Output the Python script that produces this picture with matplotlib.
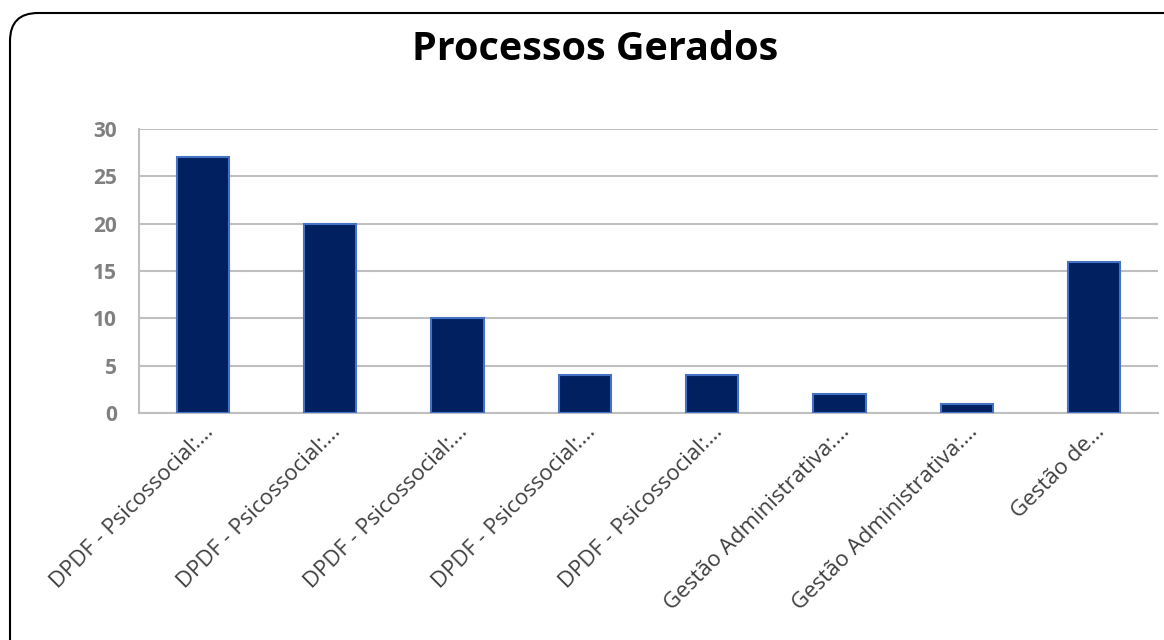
import matplotlib.pyplot as plt
from matplotlib.patches import FancyBboxPatch
from matplotlib.transforms import IdentityTransform

# dados
categorias = [
    "DPDF - Psicossocial:…",
    "DPDF - Psicossocial:…",
    "DPDF - Psicossocial:…",
    "DPDF - Psicossocial:…",
    "DPDF - Psicossocial:…",
    "Gestão Administrativa:…",
    "Gestão Administrativa:…",
    "Gestão de…",
]
valores = [27, 20, 10, 4, 4, 2, 1, 16]
yticks = [0, 5, 10, 15, 20, 25, 30]

plt.rcParams['font.family'] = ['Open Sans', 'DejaVu Sans']

fig = plt.figure(figsize=(11.64, 6.4), dpi=100)
ax = fig.add_axes([139 / 1164, 1 - 413 / 640, (1158 - 139) / 1164, (413 - 129) / 640])

x = range(len(categorias))
ax.bar(x, valores, width=0.41, color='#002060', edgecolor='#4472C4', linewidth=1.5, zorder=3)

ax.set_xlim(-0.5, len(categorias) - 0.5)
ax.set_ylim(0, 30)
ax.set_yticks(yticks)
ax.set_yticklabels([str(v) for v in yticks], fontsize=15, fontweight='bold', color='#808080')
ax.set_xticks(list(x))
ax.set_xticklabels(categorias, rotation=45, ha='right', rotation_mode='anchor',
                   fontsize=16, color='#404040')
ax.tick_params(axis='both', length=0)
ax.tick_params(axis='y', pad=16)
ax.tick_params(axis='x', pad=6)
ax.grid(axis='y', color='#BFBFBF', linewidth=1.5, zorder=0)
for s in ['top', 'right']:
    ax.spines[s].set_visible(False)
ax.spines['left'].set_color('#BFBFBF')
ax.spines['bottom'].set_color('#BFBFBF')
ax.spines['left'].set_linewidth(1.5)
ax.spines['bottom'].set_linewidth(1.5)

fig.text(595 / 1164, 1 - 50 / 640, "Processos Gerados", ha='center', va='center',
         fontsize=28.5, fontweight='bold', color='black')

# moldura arredondada
borda = FancyBboxPatch((10, -40), 1190, 640 - 13 + 40,
                       boxstyle="round,pad=0,rounding_size=28",
                       transform=IdentityTransform(), fill=False,
                       edgecolor='black', linewidth=1.5)
fig.patches.append(borda)

fig.savefig("out.png", dpi=100)
